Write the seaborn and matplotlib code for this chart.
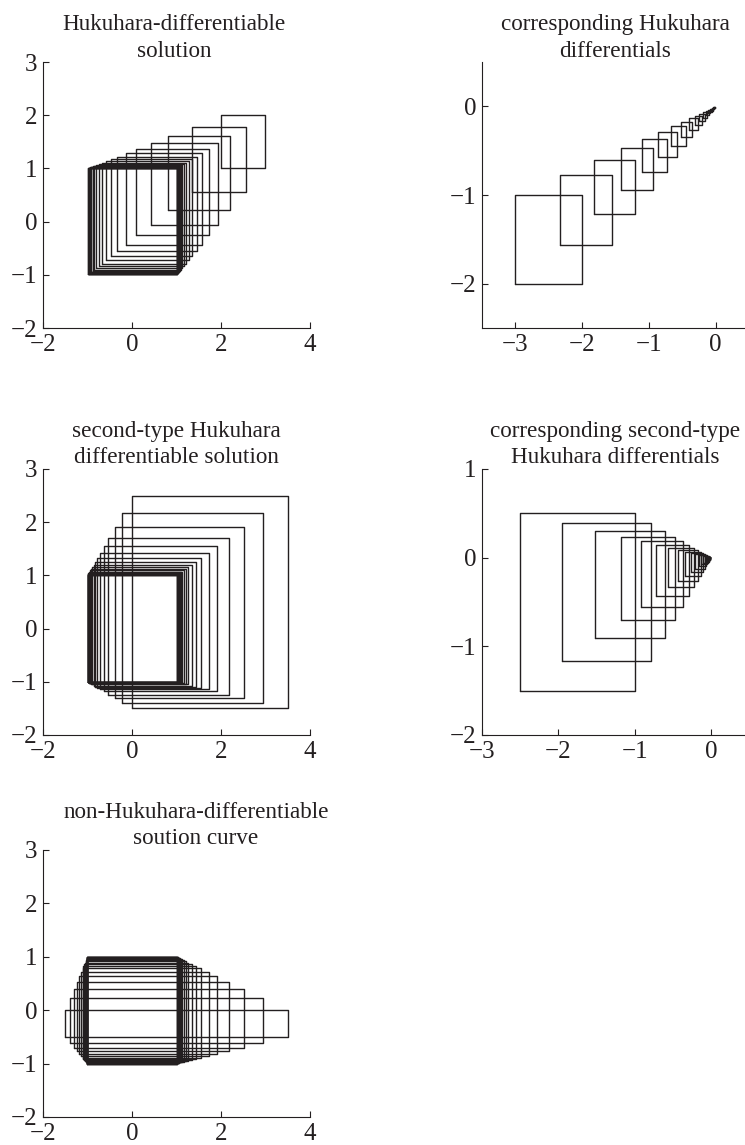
import numpy as np
import pandas as pd
import matplotlib
matplotlib.use("Agg")
import matplotlib.pyplot as plt
import seaborn as sns

# ---- data: one rectangle per time step ----
# panel 1: Hukuhara-differentiable solution
sol1_x_lo = [2.00, 1.34, 0.82, 0.42, 0.10, -0.14, -0.33, -0.48, -0.59, -0.68, -0.75,
             -0.81, -0.85, -0.88, -0.91, -0.93, -0.95, -0.96, -0.97, -0.97, -0.98, -0.98]
sol1_x_hi = [3.00, 2.56, 2.21, 1.94, 1.74, 1.57, 1.45, 1.35, 1.27, 1.21, 1.16,
             1.13, 1.10, 1.08, 1.06, 1.05, 1.04, 1.03, 1.02, 1.02, 1.01, 1.01]
sol1_y_lo = [1.00, 0.56, 0.21, -0.06, -0.26, -0.43, -0.55, -0.65, -0.73, -0.79, -0.84,
             -0.87, -0.90, -0.92, -0.94, -0.95, -0.96, -0.97, -0.98, -0.98, -0.99, -0.99]
sol1_y_hi = [2.00, 1.78, 1.61, 1.47, 1.37, 1.29, 1.22, 1.17, 1.14, 1.11, 1.08,
             1.06, 1.05, 1.04, 1.03, 1.02, 1.02, 1.01, 1.01, 1.01, 1.01, 1.01]

# panel 2: corresponding Hukuhara differentials
der1_x_lo = [-3.000, -2.336, -1.820, -1.417, -1.104, -0.860, -0.669, -0.521, -0.406, -0.316, -0.246,
             -0.192, -0.149, -0.116, -0.091, -0.071, -0.055, -0.043, -0.033, -0.026, -0.020, -0.016]
der1_x_hi = [-2.000, -1.558, -1.213, -0.945, -0.736, -0.573, -0.446, -0.348, -0.271, -0.211, -0.164,
             -0.128, -0.100, -0.078, -0.060, -0.047, -0.037, -0.029, -0.022, -0.017, -0.013, -0.010]
der1_y_lo = [-2.000, -1.558, -1.213, -0.945, -0.736, -0.573, -0.446, -0.348, -0.271, -0.211, -0.164,
             -0.128, -0.100, -0.078, -0.060, -0.047, -0.037, -0.029, -0.022, -0.017, -0.013, -0.010]
der1_y_hi = [-1.000, -0.779, -0.607, -0.472, -0.368, -0.287, -0.223, -0.174, -0.135, -0.105, -0.082,
             -0.064, -0.050, -0.039, -0.030, -0.024, -0.018, -0.014, -0.011, -0.009, -0.007, -0.005]

# panel 3: second-type Hukuhara differentiable solution
sol2_x_lo = [0.00, -0.22, -0.39, -0.53, -0.63, -0.71, -0.78, -0.83, -0.86, -0.89, -0.92,
             -0.94, -0.95, -0.96, -0.97, -0.98, -0.98, -0.99, -0.99, -0.99, -0.99, -0.99]
sol2_x_hi = [3.50, 2.95, 2.52, 2.18, 1.92, 1.72, 1.56, 1.43, 1.34, 1.26, 1.21,
             1.16, 1.12, 1.10, 1.08, 1.06, 1.05, 1.04, 1.03, 1.02, 1.02, 1.01]
sol2_y_lo = [-1.50, -1.39, -1.30, -1.24, -1.18, -1.14, -1.11, -1.09, -1.07, -1.05, -1.04,
             -1.03, -1.02, -1.02, -1.02, -1.01, -1.01, -1.01, -1.01, -1.00, -1.00, -1.00]
sol2_y_hi = [2.50, 2.17, 1.91, 1.71, 1.55, 1.43, 1.33, 1.26, 1.20, 1.16, 1.12,
             1.10, 1.07, 1.06, 1.05, 1.04, 1.03, 1.02, 1.02, 1.01, 1.01, 1.01]

# panel 4: corresponding second-type Hukuhara differentials
der2_x_lo = [-2.500, -1.947, -1.517, -1.181, -0.920, -0.716, -0.558, -0.434, -0.338, -0.263, -0.205,
             -0.160, -0.124, -0.097, -0.075, -0.059, -0.046, -0.036, -0.028, -0.022, -0.017, -0.013]
der2_x_hi = [-1.000, -0.779, -0.607, -0.472, -0.368, -0.287, -0.223, -0.174, -0.135, -0.105, -0.082,
             -0.064, -0.050, -0.039, -0.030, -0.024, -0.018, -0.014, -0.011, -0.009, -0.007, -0.005]
der2_y_lo = [-1.500, -1.168, -0.910, -0.708, -0.552, -0.430, -0.335, -0.261, -0.203, -0.158, -0.123,
             -0.096, -0.075, -0.058, -0.045, -0.035, -0.027, -0.021, -0.017, -0.013, -0.010, -0.008]
der2_y_hi = [0.500, 0.389, 0.303, 0.236, 0.184, 0.143, 0.112, 0.087, 0.068, 0.053, 0.041,
             0.032, 0.025, 0.019, 0.015, 0.012, 0.009, 0.007, 0.006, 0.004, 0.003, 0.003]

# panel 5: non-Hukuhara-differentiable solution curve
sol3_x_lo = [-1.50, -1.39, -1.30, -1.24, -1.18, -1.14, -1.11, -1.09, -1.07, -1.05, -1.04,
             -1.03, -1.02, -1.02, -1.02, -1.01, -1.01, -1.01, -1.01, -1.00, -1.00, -1.00]
sol3_x_hi = [3.50, 2.95, 2.52, 2.18, 1.92, 1.72, 1.56, 1.43, 1.34, 1.26, 1.21,
             1.16, 1.12, 1.10, 1.08, 1.06, 1.05, 1.04, 1.03, 1.02, 1.02, 1.01]
sol3_y_lo = [-0.50, -0.61, -0.70, -0.76, -0.82, -0.86, -0.89, -0.91, -0.93, -0.95, -0.96,
             -0.97, -0.98, -0.98, -0.98, -0.99, -0.99, -0.99, -0.99, -1.00, -1.00, -1.00]
sol3_y_hi = [0.00, 0.22, 0.39, 0.53, 0.63, 0.71, 0.78, 0.83, 0.86, 0.89, 0.92,
             0.94, 0.95, 0.96, 0.97, 0.98, 0.98, 0.99, 0.99, 0.99, 0.99, 0.99]

titles = [
    "Hukuhara-differentiable\nsolution",
    "corresponding Hukuhara\ndifferentials",
    "second-type Hukuhara\ndifferentiable solution",
    "corresponding second-type\nHukuhara differentials",
    "non-Hukuhara-differentiable\nsoution curve",
]


def rect_frame(x_lo, x_hi, y_lo, y_hi):
    # closed outline of every rectangle, one unit per rectangle
    rows = []
    for i, (a, b, c, d) in enumerate(zip(x_lo, x_hi, y_lo, y_hi)):
        for x, y in [(a, c), (b, c), (b, d), (a, d), (a, c)]:
            rows.append({"rect": i, "x": x, "y": y})
    return pd.DataFrame(rows)


sns.set_style("ticks")
plt.rcParams["font.family"] = ["Liberation Serif", "DejaVu Serif"]
plt.rcParams["axes.unicode_minus"] = True

ink = "#231f20"
fig = plt.figure(figsize=(7.45, 11.45), dpi=100)

# axes boxes in figure fractions (left, bottom, width, height)
boxes = [
    [0.0577, 0.7135, 0.3584, 0.2323],
    [0.6470, 0.7135, 0.3584, 0.2323],
    [0.0577, 0.3581, 0.3584, 0.2323],
    [0.6470, 0.3581, 0.3584, 0.2323],
    [0.0577, 0.0245, 0.3584, 0.2332],
]
panels = [
    (sol1_x_lo, sol1_x_hi, sol1_y_lo, sol1_y_hi),
    (der1_x_lo, der1_x_hi, der1_y_lo, der1_y_hi),
    (sol2_x_lo, sol2_x_hi, sol2_y_lo, sol2_y_hi),
    (der2_x_lo, der2_x_hi, der2_y_lo, der2_y_hi),
    (sol3_x_lo, sol3_x_hi, sol3_y_lo, sol3_y_hi),
]
limits = [
    ((-2, 4), (-2, 3), [-2, 0, 2, 4], [-2, -1, 0, 1, 2, 3]),
    ((-3.5, 0.5), (-2.5, 0.5), [-3, -2, -1, 0], [-2, -1, 0]),
    ((-2, 4), (-2, 3), [-2, 0, 2, 4], [-2, -1, 0, 1, 2, 3]),
    ((-3, 0.5), (-2, 1), [-3, -2, -1, 0], [-2, -1, 0, 1]),
    ((-2, 4), (-2, 3), [-2, 0, 2, 4], [-2, -1, 0, 1, 2, 3]),
]
title_x = [0.49, 0.5, 0.5, 0.5, 0.573]

for k in range(5):
    ax = fig.add_axes(boxes[k])
    df = rect_frame(*panels[k])
    sns.lineplot(data=df, x="x", y="y", units="rect", estimator=None, sort=False,
                 color=ink, lw=1.0, ax=ax, legend=False)
    xl, yl, xt, yt = limits[k]
    ax.set_xlim(xl)
    ax.set_ylim(yl)
    ax.set_xticks(xt)
    ax.set_yticks(yt)
    ax.set(xlabel="", ylabel="")
    sns.despine(ax=ax)
    for s in ["left", "bottom"]:
        ax.spines[s].set_color(ink)
        ax.spines[s].set_linewidth(0.8)
    ax.tick_params(direction="in", length=4, width=0.8, color=ink,
                   labelsize=18, labelcolor=ink, pad=4)
    ax.set_title(titles[k], fontsize=16.7, color=ink, x=title_x[k], pad=4, linespacing=1.35)

fig.savefig("out.png", dpi=100)
